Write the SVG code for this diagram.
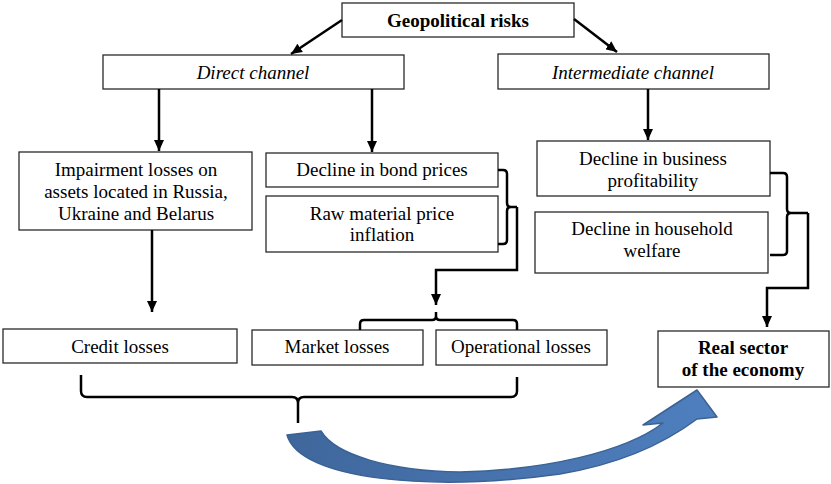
<svg xmlns="http://www.w3.org/2000/svg" width="831" height="484" viewBox="0 0 831 484">
<defs>
<marker id="ah" markerUnits="userSpaceOnUse" markerWidth="12" markerHeight="10" refX="11" refY="5" orient="auto">
<path d="M0,0 L11,5 L0,10 Z" fill="#000"/>
</marker>
<linearGradient id="blue" x1="0" y1="0" x2="1" y2="0">
<stop offset="0" stop-color="#3f679c"/>
<stop offset="1" stop-color="#4f7fbf"/>
</linearGradient>
</defs>
<style>
.box{fill:#fff;stroke:#2a2a2a;stroke-width:1.3}
.t{font-family:"Liberation Serif","Times New Roman",serif;font-size:19px;fill:#000;text-anchor:middle}
.b{font-weight:bold}
.i{font-style:italic}
.c{fill:none;stroke:#000;stroke-width:2.5}
</style>
<rect width="831" height="484" fill="#fff"/>

<g id="geopolitical-risks">
<rect class="box" x="342" y="3" width="232" height="34"/>
<text class="t b" x="458" y="27">Geopolitical risks</text>
</g>
<g id="direct-channel">
<rect class="box" x="103" y="55" width="301" height="34"/>
<text class="t i" x="253" y="79">Direct channel</text>
</g>
<g id="intermediate-channel">
<rect class="box" x="498" y="54" width="271" height="35"/>
<text class="t i" x="633" y="79">Intermediate channel</text>
</g>
<g id="impairment">
<rect class="box" x="19" y="152" width="233" height="78"/>
<text class="t" x="136" y="176">Impairment losses on</text>
<text class="t" x="136" y="198">assets located in Russia,</text>
<text class="t" x="136" y="220">Ukraine and Belarus</text>
</g>
<g id="bond-prices">
<rect class="box" x="266" y="153" width="232" height="34"/>
<text class="t" x="382" y="176">Decline in bond prices</text>
</g>
<g id="raw-material">
<rect class="box" x="266" y="196" width="232" height="56"/>
<text class="t" x="382" y="220">Raw material price</text>
<text class="t" x="382" y="241">inflation</text>
</g>
<g id="business-profitability">
<rect class="box" x="537" y="141" width="233" height="55"/>
<text class="t" x="653" y="165">Decline in business</text>
<text class="t" x="653" y="187">profitability</text>
</g>
<g id="household-welfare">
<rect class="box" x="535" y="212" width="233" height="61"/>
<text class="t" x="652" y="235">Decline in household</text>
<text class="t" x="652" y="257">welfare</text>
</g>
<g id="credit-losses">
<rect class="box" x="3" y="329" width="234" height="34"/>
<text class="t" x="120" y="353">Credit losses</text>
</g>
<g id="market-losses">
<rect class="box" x="252" y="330" width="171" height="35"/>
<text class="t" x="337" y="353">Market losses</text>
</g>
<g id="operational-losses">
<rect class="box" x="436" y="330" width="171" height="35"/>
<text class="t" x="521" y="353">Operational losses</text>
</g>
<g id="real-sector">
<rect class="box" x="658" y="331" width="171" height="56"/>
<text class="t b" x="743" y="354">Real sector</text>
<text class="t b" x="743" y="376">of the economy</text>
</g>

<g id="connectors">
<line class="c" x1="342" y1="20" x2="291" y2="54" marker-end="url(#ah)"/>
<line class="c" x1="574" y1="19" x2="617" y2="52" marker-end="url(#ah)"/>
<line class="c" x1="159" y1="89" x2="159" y2="151" marker-end="url(#ah)"/>
<line class="c" x1="372" y1="89" x2="372" y2="152" marker-end="url(#ah)"/>
<line class="c" x1="648" y1="89" x2="648" y2="140" marker-end="url(#ah)"/>
<line class="c" x1="152" y1="230" x2="152" y2="312" marker-end="url(#ah)"/>
<path class="c" d="M498 170 L503 170 Q507 170 507 174 L507 203 Q507 207 511 207 L517 207 M511 207 Q507 207 507 211 L507 240 Q507 244 503 244 L498 244"/>
<path class="c" d="M517 207 L517 270 L436 270 L436 305" marker-end="url(#ah)"/>
<path class="c" d="M436 312 L436 316 Q436 320 432 320 L364 320 Q360 320 360 324 L360 330 M436 316 Q436 320 440 320 L513 320 Q517 320 517 324 L517 330"/>
<path class="c" d="M770 173 L783 173 Q787 173 787 177 L787 209 Q787 213 791 213 L808 213 M791 213 Q787 213 787 217 L787 251 Q787 255 783 255 L770 255"/>
<path class="c" d="M808 213 L808 288 L767 288 L767 327" marker-end="url(#ah)"/>
<path class="c" d="M81 375 L81 391 Q81 397 87 397 L292 397 Q298 397 298 403 L298 423 M298 403 Q298 397 304 397 L511 397 Q517 397 517 391 L517 377"/>
<path d="M287 435 L321 431 C335 455 390 471 460 472 C545 470 625 452 663 423 L643 425 L697 390 L717 417 L697 419 C665 443 620 464 560 474 C430 492 300 480 287 435 Z" fill="url(#blue)" stroke="#3a6295" stroke-width="1.5" stroke-linejoin="round"/>
</g>
</svg>
